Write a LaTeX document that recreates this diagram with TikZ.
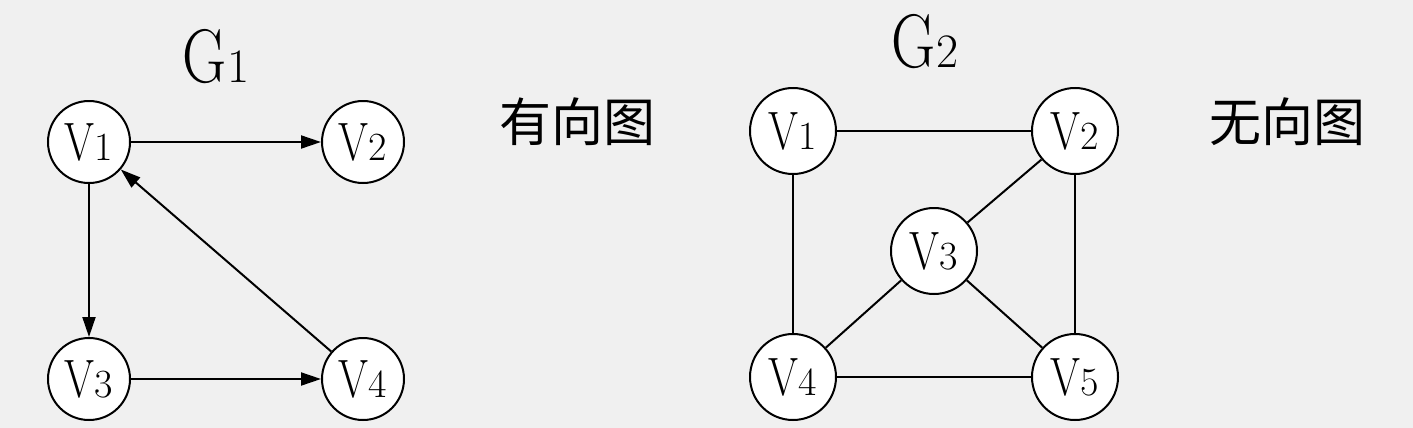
\documentclass[tikz,border=0pt]{standalone}
\usepackage{fontspec}
\usepackage{graphicx}
\newfontfamily\cjk{Noto Sans CJK SC}
\usetikzlibrary{arrows.meta}
\definecolor{bg}{HTML}{F0F0F0}
\newcommand{\vlab}[1]{\scalebox{0.8}[1]{\fontsize{27}{27}\selectfont V}{\fontsize{20}{20}\selectfont #1}}
\newcommand{\glab}[1]{\scalebox{0.8}[1]{\fontsize{38}{38}\selectfont G}{\fontsize{24}{24}\selectfont #1}}
\begin{document}
\begin{tikzpicture}[x=0.5pt,y=-0.5pt,
  vtx/.style={circle,draw,line width=1pt,fill=white,inner sep=0pt,minimum size=41pt},
  vtxb/.style={vtx,minimum size=43pt},
  edge/.style={line width=1pt},
  arc/.style={edge,-{Triangle[length=10pt,width=6.5pt]}},
  zh/.style={font=\cjk\fontsize{26}{26}\selectfont,inner sep=0pt}]
\fill[bg] (0,0) rectangle (1413,428);
\useasboundingbox (0,0) rectangle (1413,428);
% G1
\node[inner sep=0pt,anchor=base] (g1) at (216,82) {\glab{1}};
\node[vtx] (a1) at (89,142) {\vlab{1}};
\node[vtx] (a2) at (363,142) {\vlab{2}};
\node[vtx] (a3) at (89,379) {\vlab{3}};
\node[vtx] (a4) at (363,379) {\vlab{4}};
\draw[arc] (a1) -- (a2);
\draw[arc] (a1) -- (a3);
\draw[arc] (a3) -- (a4);
\draw[arc] (a4) -- (a1);
\node[zh] (t1) at (577,122) {有向图};
% G2
\node[inner sep=0pt,anchor=base] (g2) at (925,67) {\glab{2}};
\node[vtxb] (b1) at (793,131) {\vlab{1}};
\node[vtxb] (b2) at (1075,131) {\vlab{2}};
\node[vtxb] (b3) at (934,251) {\vlab{3}};
\node[vtxb] (b4) at (793,377) {\vlab{4}};
\node[vtxb] (b5) at (1075,377) {\vlab{5}};
\draw[edge] (b1) -- (b2);
\draw[edge] (b1) -- (b4);
\draw[edge] (b2) -- (b5);
\draw[edge] (b4) -- (b5);
\draw[edge] (b2) -- (b3);
\draw[edge] (b3) -- (b4);
\draw[edge] (b3) -- (b5);
\node[zh] (t2) at (1287,122) {无向图};
\end{tikzpicture}
\end{document}
